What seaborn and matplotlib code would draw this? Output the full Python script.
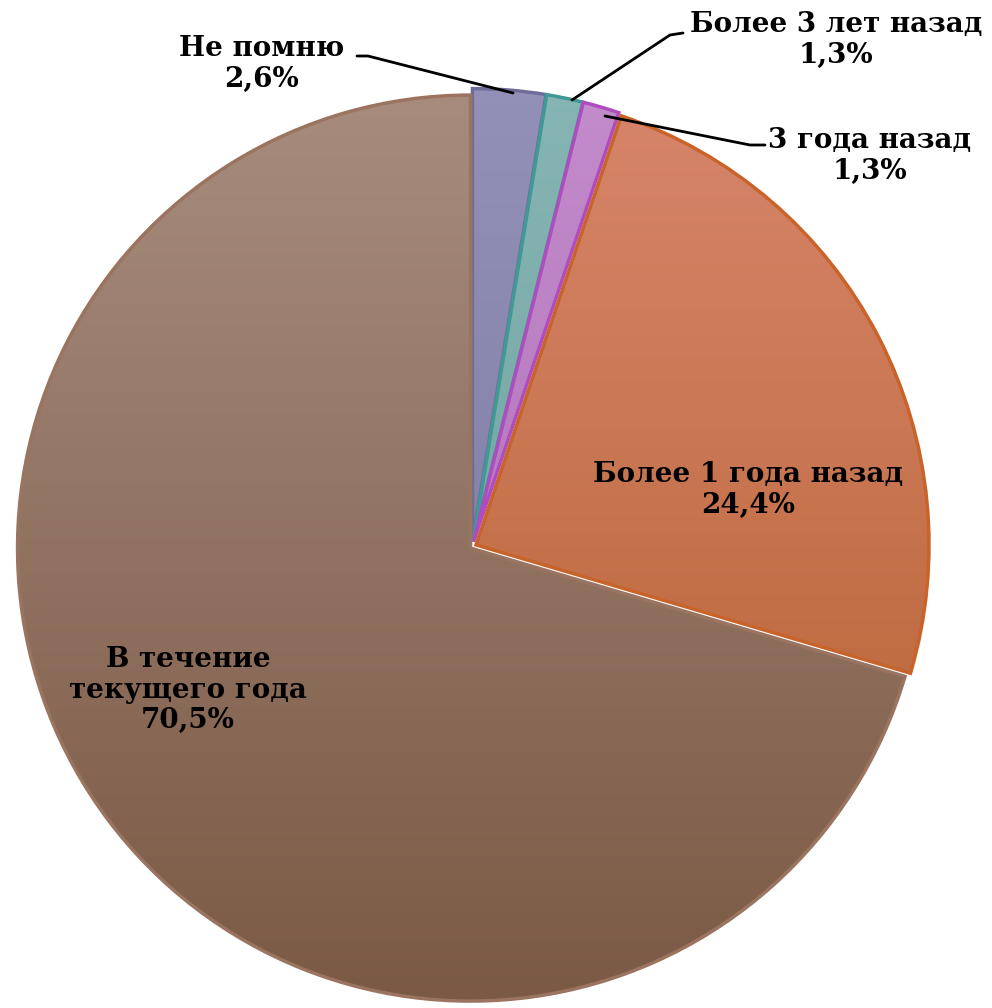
import numpy as np
import matplotlib
matplotlib.use("Agg")
import matplotlib.pyplot as plt
import seaborn as sns
from matplotlib.colors import LinearSegmentedColormap

# -----------------------------
# data
# -----------------------------
labels = ["Не помню", "Более 3 лет назад", "3 года назад",
          "Более 1 года назад", "В течение\nтекущего года"]
values = [2.6, 1.3, 1.3, 24.4, 70.5]
pct_text = ["2,6%", "1,3%", "1,3%", "24,4%", "70,5%"]

# gradient colours (top, bottom) and edge colour per slice
top_cols = ["#9391b8", "#86b5b3", "#c38ccb", "#d8866c", "#a88d7f"]
bot_cols = ["#77749c", "#6b9c99", "#a868b2", "#b25e2c", "#7a5843"]
edge_cols = ["#6f6c9a", "#3f9a95", "#b04cc0", "#c8632a", "#9a7460"]

sns.set_theme(style="white")
plt.rcParams["font.family"] = ["DejaVu Serif"]

fig = plt.figure(figsize=(9.92, 10.08), dpi=100)
ax = fig.add_axes([0, 0, 1, 1])
R = 453.0
cx, cy = 472.0, 547.0
xlim = (-cx / R, (992 - cx) / R)
ylim = (-(1008 - cy) / R, cy / R)

explode = [0.012, 0.012, 0.012, 0.01, 0.004]
wedges, _ = ax.pie(values, startangle=90, counterclock=False, explode=explode,
                   colors=top_cols, radius=1.0,
                   wedgeprops=dict(linewidth=2.5))

# gradient fill clipped to each wedge
grad = np.linspace(0, 1, 256).reshape(-1, 1)
for w, t, b, e in zip(wedges, top_cols, bot_cols, edge_cols):
    w.set_edgecolor(e)
    cmap = LinearSegmentedColormap.from_list("g", [t, b])
    im = ax.imshow(grad, cmap=cmap, extent=[-1.05, 1.05, -1.05, 1.05],
                   origin="upper", aspect="auto", zorder=2)
    im.set_clip_path(w)
    w.set_facecolor("none")
    w.set_zorder(3)

ax.set_xlim(*xlim)
ax.set_ylim(*ylim)
ax.set_aspect("equal")
ax.axis("off")


def px(x, y):
    return ((x - cx) / R, (cy - y) / R)


fs = 20
kw = dict(fontsize=fs, fontweight="bold", color="black", ha="center",
          va="center", linespacing=1.15, zorder=5)

# inside labels
ax.text(*px(748, 490), labels[3] + "\n" + pct_text[3], **kw)
ax.text(*px(188, 690), labels[4] + "\n" + pct_text[4], **kw)

# outside labels with leader lines
ax.text(*px(262, 64), labels[0] + "\n" + pct_text[0], **kw)
ax.text(*px(836, 40), labels[1] + "\n" + pct_text[1], **kw)
ax.text(*px(870, 156), labels[2] + "\n" + pct_text[2], **kw)

leaders = [
    [(357, 56), (368, 56), (513, 93)],
    [(683, 33), (670, 35), (572, 100)],
    [(765, 145), (750, 145), (605, 116)],
]
for pts in leaders:
    xy = np.array([px(x, y) for x, y in pts])
    ax.plot(xy[:, 0], xy[:, 1], color="black", lw=2, zorder=6)

fig.savefig("out.png", dpi=100, facecolor="white")
